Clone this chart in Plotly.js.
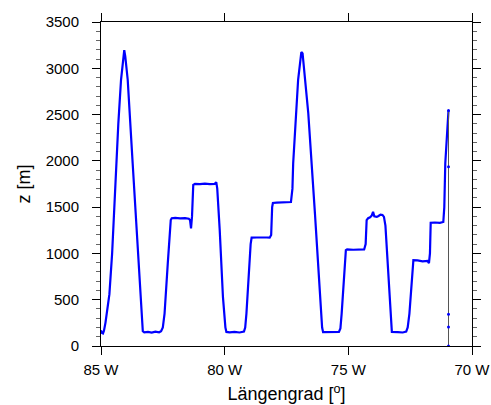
<!DOCTYPE html>
<html><head><meta charset="utf-8">
<script src="https://cdn.plot.ly/plotly-3.0.1.min.js"></script>
<style>html,body{margin:0;padding:0;background:#fff}#chart{width:491px;height:405px}</style>
</head><body><div id="chart"></div>
<script>
var lon = [-85.00,-84.96,-84.92,-84.88,-84.82,-84.75,-84.66,-84.55,-84.45,-84.39,-84.30,-84.19,-84.10,-84.06,-84.02,-83.92,-83.72,-83.52,-83.36,-83.31,-83.25,-83.10,-82.95,-82.80,-82.65,-82.57,-82.50,-82.43,-82.30,-82.18,-82.14,-82.00,-81.80,-81.60,-81.45,-81.40,-81.36,-81.32,-81.27,-81.20,-81.00,-80.80,-80.60,-80.40,-80.34,-80.30,-80.20,-80.07,-79.97,-79.93,-79.80,-79.60,-79.40,-79.22,-79.17,-79.12,-78.95,-78.91,-78.70,-78.50,-78.30,-78.18,-78.12,-78.08,-78.05,-77.90,-77.70,-77.50,-77.32,-77.26,-77.23,-77.03,-76.94,-76.90,-76.85,-76.80,-76.62,-76.35,-76.15,-76.06,-76.02,-75.80,-75.60,-75.38,-75.32,-75.27,-75.10,-75.05,-74.80,-74.55,-74.36,-74.30,-74.26,-74.20,-74.12,-74.05,-74.00,-73.95,-73.85,-73.78,-73.70,-73.62,-73.56,-73.50,-73.38,-73.27,-73.24,-73.00,-72.80,-72.66,-72.60,-72.53,-72.37,-72.20,-72.00,-71.80,-71.74,-71.70,-71.67,-71.50,-71.30,-71.16,-71.12,-71.08,-71.00,-70.95];
var z = [170,140,135,165,250,380,560,1000,1600,1974,2400,2876,3120,3195,3130,2876,1974,1071,380,160,148,152,145,155,148,160,200,350,892,1360,1380,1385,1378,1382,1375,1360,1270,1400,1740,1752,1748,1753,1749,1752,1770,1700,1252,530,200,152,148,152,146,155,200,350,1100,1170,1172,1168,1172,1170,1200,1500,1545,1548,1552,1549,1555,1700,1974,2876,3130,3175,3160,3000,2515,1433,530,200,150,152,148,152,190,350,1036,1043,1040,1045,1043,1100,1360,1380,1390,1410,1450,1400,1395,1405,1420,1416,1395,1300,711,250,152,150,146,155,200,350,927,925,915,920,895,1000,1331,1334,1330,1340,1500,1974,2350,2545];
var dropLon = [-70.95,-70.95,-70.95,-70.95,-70.95];
var dropZ = [2545,1937,343,206,0];
var xTickVals = [-85,-80,-75,-70];
var xTickText = ['85 W','80 W','75 W','70 W'];
var yTickVals = [0,500,1000,1500,2000,2500,3000,3500];

var traces = [
  {x: lon, y: z, mode: 'lines', line: {color: '#0000ff', width: 2.2}, hoverinfo: 'skip'},
  {x: dropLon, y: dropZ, mode: 'lines+markers', line: {color: '#555555', width: 1},
   marker: {color: '#0000ff', size: 3}, hoverinfo: 'skip'}
];
var fontFam = '"Liberation Sans", Arial, sans-serif';
var layout = {
  width: 491, height: 405,
  margin: {l: 101, r: 19, t: 22, b: 59},
  paper_bgcolor: '#fff', plot_bgcolor: '#fff',
  showlegend: false,
  font: {family: fontFam, size: 15, color: '#000'},
  xaxis: {
    range: [-85, -70], tickvals: xTickVals, ticktext: xTickText,
    showgrid: false, zeroline: false, showline: true, linecolor: '#000', linewidth: 1,
    mirror: 'ticks', ticks: 'outside', ticklen: 8, tickcolor: '#000', tickwidth: 1,
    ticklabelstandoff: 2,
    tickfont: {family: fontFam, size: 15, color: '#000'},
    title: {text: 'Längengrad [<sup>o</sup>]', font: {family: fontFam, size: 18, color: '#000'}, standoff: 10}
  },
  yaxis: {
    range: [0, 3500], tickvals: yTickVals,
    showgrid: false, zeroline: false, showline: true, linecolor: '#000', linewidth: 1,
    mirror: 'ticks', ticks: 'outside', ticklen: 8, tickcolor: '#000', tickwidth: 1,
    ticklabelstandoff: 10,
    minor: {dtick: 100, ticks: 'outside', ticklen: 4, tickcolor: '#666', showgrid: false},
    tickfont: {family: fontFam, size: 15, color: '#000'},
    title: {text: 'z [m]', font: {family: fontFam, size: 18, color: '#000'}, standoff: 10}
  }
};
Plotly.newPlot('chart', traces, layout, {staticPlot: true, displayModeBar: false});
</script></body></html>
